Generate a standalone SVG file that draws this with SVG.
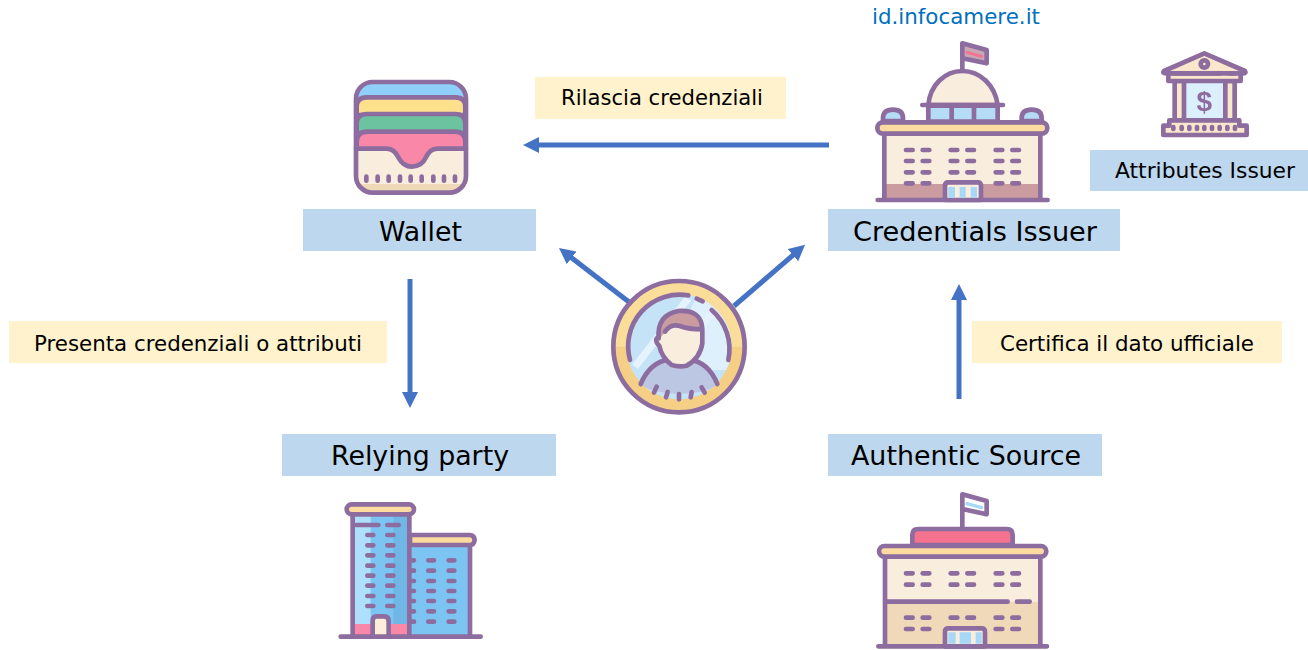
<svg xmlns="http://www.w3.org/2000/svg" width="1308" height="650" viewBox="0 0 1308 650">
<style>
text{font-family:"DejaVu Sans","Liberation Sans",sans-serif;fill:#000}
.big{font-size:26px}
.small{font-size:20.5px}
.blue{fill:#bdd7ee}
.yel{fill:#fff2cc}
.conn{stroke:#4472c4;stroke-width:5;fill:none;marker-end:url(#ah)}
.ic{filter:url(#soft)}
.s{stroke:#8d6c9f;stroke-width:14;stroke-linecap:round;stroke-linejoin:round}
.n{fill:none}
.d{stroke:#8d6c9f;stroke-width:14;stroke-linecap:round;fill:none}
</style>
<defs>
<marker id="ah" markerUnits="userSpaceOnUse" markerWidth="18" markerHeight="18" refX="8" refY="8" orient="auto"><path d="M0 0L16 8L0 16Z" fill="#4472c4"/></marker>
<filter id="soft" x="-5%" y="-5%" width="110%" height="110%"><feGaussianBlur stdDeviation="2"/></filter>
<clipPath id="disc"><circle cx="237" cy="230" r="158"/></clipPath>
</defs>
<g id="connectors">
<path class="conn" d="M829 145H531"/>
<path class="conn" d="M410 279V400"/>
<path class="conn" d="M629 302L565.3 252.9"/>
<path class="conn" d="M734 306L799 250"/>
<path class="conn" d="M959 399V292"/>
</g>
<g id="wallet">
<g class="ic" transform="translate(340,70) scale(.3333)">
<rect x="48" y="36" width="330" height="332" rx="50" fill="#8fd0fb"/>
<path d="M50 135V110Q50 82 80 82H346Q376 82 376 110V135Z" fill="#fde08c" class="s"/>
<path d="M50 190V162Q50 132 82 132H345Q376 132 376 162V190Z" fill="#6cc3a0" class="s"/>
<path d="M50 300V215Q50 185 82 185H345Q376 185 376 215V300Z" fill="#f987a8" class="s"/>
<path d="M48 236H140Q162 236 175 262Q190 290 215 290Q245 290 258 262Q270 236 292 236H378V320Q378 368 330 368H96Q48 368 48 320Z" fill="#f9eddd"/>
<path d="M54 342H372Q370 362 330 362H96Q58 362 54 342Z" fill="#f0d9b8"/>
<path d="M48 236H140Q162 236 175 262Q190 290 215 290Q245 290 258 262Q270 236 292 236H378" class="s n"/>
<rect x="48" y="36" width="330" height="332" rx="50" class="s n"/>
<path class="d" d="M79 320v12M113 320v12M146 320v12M180 320v12M212 320v12M245 320v12M280 320v12M312 320v12M345 320v12"/>
</g>
<rect class="blue" x="303" y="209" width="233" height="42"/>
<text class="big" x="379" y="241" textLength="83" lengthAdjust="spacingAndGlyphs">Wallet</text>
</g>
<g id="credentials-issuer">
<text class="small" x="872" y="24" textLength="168" lengthAdjust="spacingAndGlyphs" style="fill:#0070c0">id.infocamere.it</text>
<g class="ic" transform="translate(865,35) scale(.3333)">
<path d="M292 105V25L365 45V85L292 70" fill="#c9a7b5" class="s"/>
<path d="M306 52L350 64" stroke="#f5738f" stroke-width="9" stroke-linecap="round"/>
<path d="M190 210C195 150 240 108 292 108C345 108 390 150 398 210Z" fill="#f9eddd" class="s"/>
<rect x="190" y="212" width="208" height="48" fill="#b5dcf7" class="s"/>
<path class="d" d="M172 210H414M260 212V258M327 212V258"/>
<path d="M54 258V250Q54 224 84 224Q114 224 114 250V258Z" fill="#b5dcf7" class="s"/>
<path d="M470 258V250Q470 224 500 224Q530 224 530 250V258Z" fill="#b5dcf7" class="s"/>
<rect x="57" y="296" width="470" height="199" fill="#f9eddd"/>
<rect x="57" y="447" width="470" height="48" fill="#cb9c9f"/>
<path class="d" d="M58 296V495M526 296V495M38 495H548"/>
<rect x="37" y="262" width="510" height="34" rx="17" fill="#fbdb9f" class="s"/>
<path class="d" d="M123 345H143M173 345H193M257 345H277M307 345H327M392 345H412M442 345H462M123 378H143M173 378H193M257 378H277M307 378H327M392 378H412M442 378H462M123 412H143M173 412H193M257 412H277M307 412H327M392 412H412M442 412H462M123 445H143M173 445H193M392 445H412M442 445H462"/>
<path d="M240 495V452Q240 442 250 442H338Q348 442 348 452V495Z" fill="#f9eddd" class="s"/>
<path d="M250 456H270V488H250ZM284 456H302V488H284ZM317 456H336V488H317Z" fill="#a8d8f8"/>
</g>
<rect class="blue" x="828" y="209" width="292" height="42"/>
<text class="big" x="853" y="241" textLength="244" lengthAdjust="spacingAndGlyphs">Credentials Issuer</text>
</g>
<g id="attributes-issuer">
<g class="ic" transform="translate(1150,45) scale(.3333)">
<path d="M163 25L285 78Q290 85 280 85H48Q36 85 42 78Z" fill="#f9e6cb" class="s"/>
<circle cx="163" cy="57" r="11" fill="#f9eddd" class="s"/>
<rect x="102" y="108" width="124" height="118" fill="#dceffd"/>
<rect x="74" y="108" width="28" height="118" fill="#f9e6cb" class="s"/>
<rect x="226" y="108" width="28" height="118" fill="#f9e6cb" class="s"/>
<rect x="55" y="85" width="217" height="23" fill="#f9e6cb" class="s"/>
<path class="d" d="M70 85H210M238 85H256"/>
<path d="M58 226H268V242H290V270H40V242H58Z" fill="#f9e6cb" class="s"/>
<path class="d" d="M70 246v6M95 246v6M118 246v6M141 246v6M163 246v6M186 246v6M209 246v6M232 246v6M255 246v6"/>
<text x="163" y="197" text-anchor="middle" style="font-size:84px;fill:#8d6c9f;font-weight:700;font-family:'Liberation Sans',sans-serif">$</text>
</g>
<rect class="blue" x="1090" y="150" width="218" height="41"/>
<text class="small" x="1115" y="178" textLength="180" lengthAdjust="spacingAndGlyphs">Attributes Issuer</text>
</g>
<g id="user">
<g class="ic" transform="translate(600,270) scale(.3333)">
<circle cx="237" cy="230" r="197" fill="#fbdd9a"/>
<path d="M43 230A194 194 0 0 0 431 230Z" fill="#f5cf85"/>
<circle cx="237" cy="230" r="197" class="s n"/>
<g clip-path="url(#disc)">
<rect x="70" y="60" width="340" height="340" fill="#c5e3f7"/>
<path d="M300 60L410 60V300L180 300Z" fill="#dff0fd"/>
<path d="M265 85L105 290M345 120L200 290" stroke="#e4f3fe" stroke-width="22" fill="none"/>
</g>
<path d="M122 342Q150 275 210 268H265Q325 275 352 342Q330 368 237 372Q150 368 122 342Z" fill="#bcc8e3"/>
<path d="M122 342Q150 275 210 268M265 268Q325 275 352 342" class="s n"/>
<path d="M175 210Q172 165 195 145Q240 115 285 140Q308 160 305 205V220Q300 265 260 285Q237 292 215 285Q180 262 175 220Z" fill="#f9eddd"/>
<path d="M180 205Q172 140 235 125Q305 120 305 175Q270 175 245 170Q215 165 205 180Q190 190 180 205Z" fill="#cb9c9f"/>
<path d="M176 205Q170 135 235 123Q305 118 307 178Q265 178 240 168Q212 160 195 185M307 178V220Q300 265 260 287Q237 292 215 285Q185 262 178 228Q160 210 176 200" class="s n"/>
<path d="M265 76A155 155 0 0 0 90 270M290 86L308 94M335 120A155 155 0 0 1 385 270" class="s n"/>
<path class="d" d="M170 350L162 368M203 366L198 382M237 372V388M275 366L272 382M305 352L314 368"/>
</g>
</g>
<g id="relying-party">
<rect class="blue" x="282" y="434" width="274" height="42"/>
<text class="big" x="331" y="465" textLength="178" lengthAdjust="spacingAndGlyphs">Relying party</text>
<g class="ic" transform="translate(330,495) scale(.3333)">
<rect x="238" y="150" width="182" height="275" fill="#7cc4f2"/>
<rect x="68" y="62" width="170" height="325" fill="#7cc4f2"/>
<rect x="74" y="62" width="48" height="325" fill="#aee0fb"/>
<rect x="190" y="62" width="48" height="325" fill="#6fb7e6"/>
<rect x="68" y="387" width="170" height="38" fill="#f987a8"/>
<path class="d" d="M68 60V425M238 60V425M420 150V425M32 425H452"/>
<rect x="50" y="28" width="202" height="30" rx="15" fill="#fbdb9f" class="s"/>
<path d="M240 120H420Q434 122 434 135Q432 150 420 150H240Z" fill="#fbdb9f" class="s"/>
<path class="d" d="M78 90H145M172 90H206M112 120H130M172 120H190M112 151H130M172 151H190M112 181H130M172 181H190M112 212H130M172 212H190M112 242H130M172 242H190M112 272H130M172 272H190M112 303H130M172 303H190M112 333H130M172 333H190M243 196H252M295 196H312M356 196H373M243 227H252M295 227H312M356 227H373M243 258H252M295 258H312M356 258H373M243 288H252M295 288H312M356 288H373M243 318H252M295 318H312M356 318H373M243 349H252M295 349H312M356 349H373M243 380H252M295 380H312M356 380H373"/>
<path d="M128 425V378Q128 364 140 364H162Q176 364 176 378V425Z" fill="#fdeeda" class="s"/>
</g>
</g>
<g id="authentic-source">
<rect class="blue" x="828" y="434" width="274" height="42"/>
<text class="big" x="851" y="465" textLength="230" lengthAdjust="spacingAndGlyphs">Authentic Source</text>
<g class="ic" transform="translate(865,485) scale(.3333)">
<path d="M292 130V28L365 48V88L292 72" fill="#fff" class="s"/>
<path d="M306 56L350 68" stroke="#a8d8f8" stroke-width="10" stroke-linecap="round"/>
<path d="M142 180V150Q142 132 160 132H425Q443 132 443 150V180Z" fill="#f5738f" class="s"/>
<rect x="60" y="216" width="466" height="134" fill="#f9eddd"/>
<rect x="60" y="350" width="466" height="134" fill="#f0d9b8"/>
<path class="d" d="M60 214V484M526 214V484M40 484H546M60 350H428M456 350H494"/>
<rect x="42" y="183" width="502" height="32" rx="16" fill="#fbdb9f" class="s"/>
<path class="d" d="M123 265H143M173 265H193M257 265H277M307 265H327M392 265H412M442 265H462M123 299H143M173 299H193M257 299H277M307 299H327M392 299H412M442 299H462M123 398H143M173 398H193M257 398H277M307 398H327M392 398H412M442 398H462M123 432H143M173 432H193M392 432H412M442 432H462"/>
<path d="M240 484V440Q240 430 250 430H350Q360 430 360 440V484Z" fill="#f9eddd" class="s"/>
<path d="M250 442H272V476H250ZM284 442H318V476H284ZM332 442H350V476H332Z" fill="#a8d8f8"/>
</g>
</g>
<g id="label-rilascia">
<rect class="yel" x="535" y="77" width="251" height="42"/>
<text class="small" x="561" y="105" textLength="202" lengthAdjust="spacingAndGlyphs">Rilascia credenziali</text>
</g>
<g id="label-presenta">
<rect class="yel" x="9" y="321" width="378" height="42"/>
<text class="small" x="34" y="351" textLength="328" lengthAdjust="spacingAndGlyphs">Presenta credenziali o attributi</text>
</g>
<g id="label-certifica">
<rect class="yel" x="972" y="321" width="310" height="42"/>
<text class="small" x="1000" y="351" textLength="254" lengthAdjust="spacingAndGlyphs">Certifica il dato ufficiale</text>
</g>
</svg>
